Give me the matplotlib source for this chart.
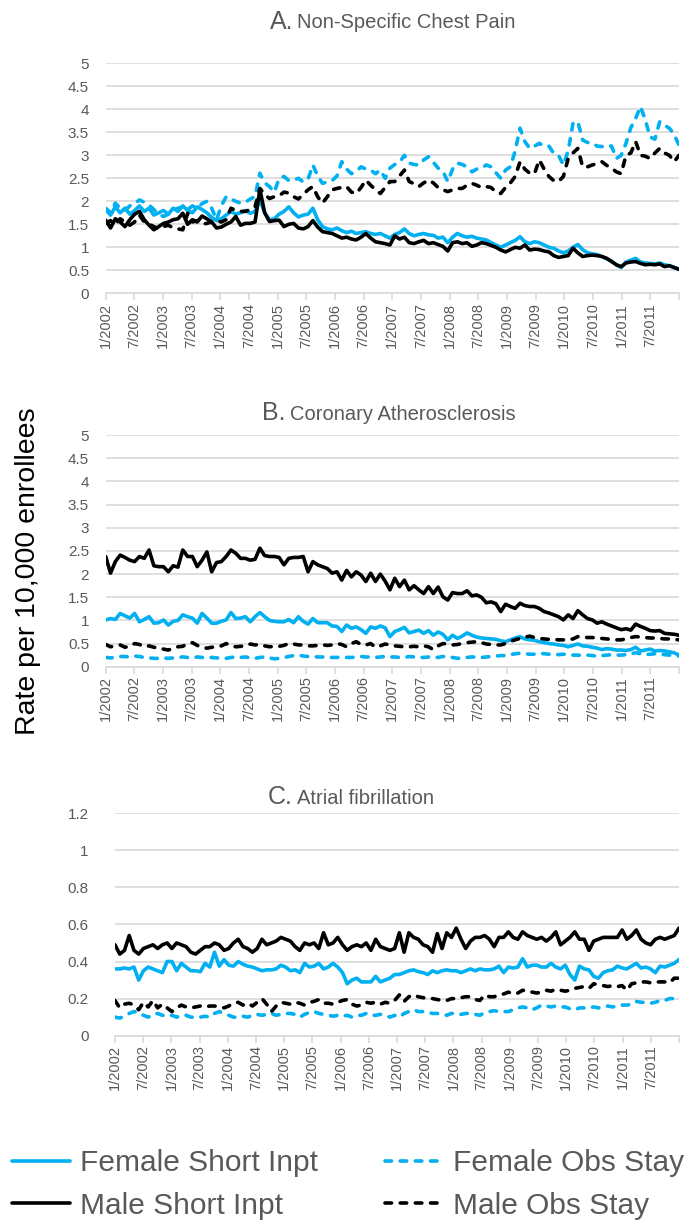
import numpy as np
import matplotlib
matplotlib.use("Agg")
import matplotlib.pyplot as plt
from matplotlib.ticker import FuncFormatter

plt.rcParams['font.family'] = ['Liberation Sans', 'DejaVu Sans']

# ---------------- data ----------------
years = list(range(2002, 2012))
tick_labels = [f"{mo}/{yr}" for yr in years for mo in (1, 7)]
months = np.arange(120)

series_names = ["Female Short Inpt", "Female Obs Stay", "Male Short Inpt", "Male Obs Stay"]

# Panel A: Non-Specific Chest Pain
a_female_short = [
    1.82, 1.70, 1.88, 1.75, 1.85, 1.72, 1.80, 1.90, 1.78, 1.85, 1.70, 1.75,
    1.80, 1.72, 1.85, 1.78, 1.90, 1.80, 1.75, 1.88, 1.82, 1.75, 1.65, 1.58,
    1.62, 1.70, 1.78, 1.72, 1.75, 1.80, 1.74, 1.78, 2.02, 1.75, 1.60, 1.62,
    1.72, 1.78, 1.88, 1.75, 1.66, 1.70, 1.72, 1.85, 1.60, 1.45, 1.40, 1.38,
    1.42, 1.36, 1.32, 1.35, 1.30, 1.32, 1.34, 1.30, 1.28, 1.30, 1.25, 1.20,
    1.28, 1.32, 1.40, 1.30, 1.25, 1.28, 1.30, 1.27, 1.26, 1.20, 1.22, 1.10,
    1.22, 1.30, 1.25, 1.22, 1.24, 1.20, 1.18, 1.16, 1.10, 1.05, 1.00, 1.05,
    1.10, 1.15, 1.23, 1.12, 1.08, 1.12, 1.10, 1.05, 1.00, 0.98, 0.92, 0.88,
    0.92, 1.00, 1.06, 0.95, 0.88, 0.86, 0.84, 0.80, 0.75, 0.70, 0.62, 0.56,
    0.68, 0.72, 0.76, 0.68, 0.66, 0.65, 0.64, 0.66, 0.62, 0.60, 0.56, 0.53]
a_male_short = [
    1.59, 1.42, 1.62, 1.55, 1.45, 1.60, 1.72, 1.78, 1.60, 1.48, 1.38, 1.45,
    1.52, 1.55, 1.60, 1.62, 1.74, 1.50, 1.60, 1.55, 1.68, 1.62, 1.55, 1.42,
    1.44, 1.50, 1.55, 1.67, 1.48, 1.52, 1.52, 1.55, 2.26, 1.75, 1.56, 1.58,
    1.59, 1.45, 1.50, 1.52, 1.42, 1.40, 1.45, 1.58, 1.44, 1.34, 1.32, 1.30,
    1.25, 1.20, 1.22, 1.18, 1.16, 1.22, 1.30, 1.20, 1.12, 1.10, 1.08, 1.05,
    1.25, 1.18, 1.22, 1.10, 1.08, 1.12, 1.15, 1.08, 1.10, 1.06, 1.02, 0.92,
    1.10, 1.12, 1.08, 1.10, 1.02, 1.05, 1.10, 1.08, 1.04, 1.00, 0.94, 0.90,
    0.95, 1.00, 0.98, 1.05, 0.94, 0.96, 0.95, 0.92, 0.90, 0.82, 0.78, 0.80,
    0.82, 0.98, 0.88, 0.80, 0.82, 0.83, 0.82, 0.80, 0.76, 0.69, 0.62, 0.58,
    0.66, 0.68, 0.69, 0.65, 0.62, 0.63, 0.62, 0.64, 0.58, 0.60, 0.56, 0.52]
a_female_obs = [
    1.85, 1.75, 1.96, 1.85, 1.80, 1.90, 1.95, 2.03, 1.98, 1.92, 1.82, 1.72,
    1.67, 1.72, 1.81, 1.85, 1.88, 1.82, 1.90, 1.85, 1.95, 2.00, 1.85, 1.60,
    1.90, 2.10, 2.05, 2.00, 1.96, 1.98, 2.05, 2.10, 2.61, 2.40, 2.32, 2.20,
    2.50, 2.54, 2.45, 2.46, 2.50, 2.42, 2.48, 2.79, 2.55, 2.39, 2.42, 2.45,
    2.55, 2.86, 2.70, 2.60, 2.65, 2.75, 2.70, 2.68, 2.60, 2.68, 2.50, 2.72,
    2.80, 2.85, 3.00, 2.83, 2.80, 2.79, 2.90, 2.97, 2.85, 2.72, 2.65, 2.43,
    2.70, 2.83, 2.80, 2.75, 2.64, 2.70, 2.72, 2.79, 2.75, 2.62, 2.50, 2.68,
    2.75, 3.10, 3.59, 3.30, 3.15, 3.20, 3.26, 3.20, 3.20, 3.04, 3.00, 2.79,
    3.10, 3.70, 3.73, 3.33, 3.28, 3.26, 3.20, 3.19, 3.22, 3.20, 2.93, 3.00,
    3.26, 3.60, 3.80, 4.06, 3.77, 3.40, 3.35, 3.73, 3.65, 3.59, 3.45, 3.22]
a_male_obs = [
    1.52, 1.58, 1.50, 1.62, 1.55, 1.48, 1.55, 1.70, 1.55, 1.50, 1.45, 1.40,
    1.45, 1.48, 1.42, 1.40, 1.38, 1.74, 1.55, 1.58, 1.50, 1.52, 1.55, 1.58,
    1.55, 1.60, 1.85, 1.80, 1.78, 1.78, 1.82, 1.88, 2.28, 2.15, 2.06, 2.10,
    2.12, 2.20, 2.18, 2.10, 2.05, 2.15, 2.25, 2.32, 2.10, 1.96, 2.10, 2.25,
    2.28, 2.30, 2.32, 2.20, 2.17, 2.30, 2.46, 2.35, 2.25, 2.17, 2.30, 2.43,
    2.43, 2.55, 2.68, 2.43, 2.38, 2.32, 2.40, 2.46, 2.40, 2.30, 2.25, 2.21,
    2.25, 2.28, 2.28, 2.35, 2.39, 2.35, 2.30, 2.32, 2.30, 2.20, 2.17, 2.30,
    2.40, 2.54, 2.86, 2.70, 2.61, 2.60, 2.90, 2.70, 2.54, 2.45, 2.43, 2.54,
    2.93, 3.05, 3.15, 2.75, 2.75, 2.79, 2.82, 2.86, 2.78, 2.72, 2.64, 2.60,
    3.00, 3.05, 3.30, 3.00, 2.98, 2.93, 3.05, 3.15, 3.05, 3.00, 2.86, 3.00]

# Panel B: Coronary Atherosclerosis
b_female_short = [
    1.01, 1.04, 1.02, 1.15, 1.10, 1.05, 1.15, 0.97, 1.02, 1.08, 0.94, 0.95,
    1.01, 0.90, 0.98, 1.00, 1.12, 1.08, 1.05, 0.94, 1.15, 1.05, 0.94, 0.94,
    0.98, 1.01, 1.17, 1.04, 1.05, 1.08, 0.97, 1.08, 1.17, 1.08, 1.00, 0.98,
    0.97, 0.97, 1.02, 0.95, 1.08, 0.98, 0.92, 1.04, 0.95, 0.95, 0.95, 0.88,
    0.87, 0.76, 0.90, 0.83, 0.86, 0.80, 0.72, 0.86, 0.83, 0.88, 0.84, 0.65,
    0.76, 0.80, 0.85, 0.73, 0.76, 0.79, 0.72, 0.78, 0.68, 0.75, 0.70, 0.58,
    0.68, 0.61, 0.66, 0.73, 0.68, 0.64, 0.62, 0.61, 0.60, 0.59, 0.56, 0.54,
    0.58, 0.62, 0.65, 0.60, 0.58, 0.57, 0.54, 0.52, 0.50, 0.49, 0.47, 0.46,
    0.43, 0.46, 0.49, 0.45, 0.44, 0.42, 0.40, 0.37, 0.39, 0.38, 0.36, 0.36,
    0.35, 0.37, 0.42, 0.34, 0.36, 0.38, 0.34, 0.35, 0.34, 0.32, 0.30, 0.25]
b_male_short = [
    2.38, 2.02, 2.27, 2.41, 2.36, 2.30, 2.27, 2.38, 2.34, 2.52, 2.18, 2.16,
    2.16, 2.05, 2.18, 2.15, 2.52, 2.38, 2.38, 2.16, 2.30, 2.48, 2.05, 2.25,
    2.27, 2.38, 2.52, 2.45, 2.34, 2.34, 2.30, 2.32, 2.56, 2.40, 2.38, 2.38,
    2.36, 2.20, 2.34, 2.36, 2.36, 2.38, 2.05, 2.27, 2.20, 2.16, 2.12, 2.02,
    2.05, 1.87, 2.08, 1.94, 2.05, 1.98, 1.84, 2.02, 1.84, 2.00, 1.85, 1.66,
    1.91, 1.73, 1.87, 1.66, 1.75, 1.66, 1.58, 1.73, 1.58, 1.72, 1.51, 1.44,
    1.60, 1.58, 1.58, 1.64, 1.53, 1.55, 1.50, 1.38, 1.40, 1.36, 1.19, 1.35,
    1.30, 1.26, 1.37, 1.32, 1.30, 1.30, 1.26, 1.19, 1.16, 1.12, 1.08, 1.01,
    1.12, 1.04, 1.21, 1.12, 1.04, 1.01, 0.94, 0.97, 0.92, 0.88, 0.84, 0.80,
    0.82, 0.79, 0.92, 0.87, 0.83, 0.78, 0.77, 0.78, 0.72, 0.71, 0.70, 0.68]
b_female_obs = [
    0.20, 0.19, 0.20, 0.22, 0.22, 0.21, 0.23, 0.22, 0.20, 0.19, 0.18, 0.18,
    0.19, 0.18, 0.19, 0.20, 0.21, 0.20, 0.19, 0.21, 0.20, 0.19, 0.20, 0.19,
    0.19, 0.18, 0.20, 0.21, 0.20, 0.21, 0.19, 0.18, 0.20, 0.21, 0.19, 0.17,
    0.18, 0.20, 0.22, 0.24, 0.25, 0.23, 0.22, 0.22, 0.21, 0.21, 0.20, 0.20,
    0.20, 0.21, 0.20, 0.20, 0.21, 0.22, 0.21, 0.21, 0.20, 0.21, 0.22, 0.21,
    0.21, 0.20, 0.20, 0.22, 0.21, 0.20, 0.20, 0.21, 0.21, 0.20, 0.22, 0.21,
    0.20, 0.18, 0.19, 0.20, 0.21, 0.21, 0.20, 0.21, 0.22, 0.23, 0.24, 0.24,
    0.26, 0.28, 0.29, 0.28, 0.27, 0.27, 0.29, 0.28, 0.27, 0.27, 0.26, 0.27,
    0.26, 0.25, 0.25, 0.24, 0.25, 0.24, 0.23, 0.24, 0.25, 0.26, 0.25, 0.25,
    0.26, 0.28, 0.30, 0.28, 0.26, 0.27, 0.28, 0.27, 0.26, 0.25, 0.25, 0.23]
b_male_obs = [
    0.48, 0.43, 0.45, 0.47, 0.42, 0.44, 0.50, 0.48, 0.43, 0.45, 0.42, 0.40,
    0.38, 0.36, 0.40, 0.43, 0.44, 0.50, 0.52, 0.46, 0.42, 0.40, 0.42, 0.43,
    0.45, 0.50, 0.46, 0.43, 0.44, 0.45, 0.49, 0.47, 0.48, 0.45, 0.43, 0.44,
    0.44, 0.46, 0.50, 0.49, 0.47, 0.47, 0.45, 0.45, 0.46, 0.47, 0.46, 0.47,
    0.50, 0.48, 0.43, 0.50, 0.54, 0.48, 0.47, 0.50, 0.42, 0.45, 0.49, 0.47,
    0.45, 0.44, 0.43, 0.43, 0.44, 0.43, 0.45, 0.43, 0.37, 0.45, 0.50, 0.49,
    0.47, 0.48, 0.50, 0.52, 0.53, 0.54, 0.52, 0.49, 0.48, 0.47, 0.47, 0.50,
    0.55, 0.58, 0.61, 0.64, 0.66, 0.63, 0.61, 0.60, 0.59, 0.59, 0.58, 0.58,
    0.58, 0.60, 0.65, 0.64, 0.63, 0.63, 0.62, 0.61, 0.60, 0.59, 0.58, 0.58,
    0.60, 0.63, 0.65, 0.64, 0.63, 0.62, 0.62, 0.61, 0.60, 0.60, 0.59, 0.58]

# Panel C: Atrial fibrillation
c_female_short = [
    0.36, 0.36, 0.365, 0.36, 0.37, 0.30, 0.35, 0.37, 0.36, 0.35, 0.34, 0.40,
    0.40, 0.35, 0.39, 0.37, 0.35, 0.35, 0.345, 0.39, 0.37, 0.45, 0.375, 0.41,
    0.38, 0.375, 0.40, 0.385, 0.375, 0.37, 0.36, 0.35, 0.355, 0.355, 0.36, 0.38,
    0.37, 0.35, 0.355, 0.34, 0.39, 0.37, 0.375, 0.39, 0.36, 0.37, 0.39, 0.37,
    0.34, 0.28, 0.30, 0.31, 0.29, 0.29, 0.29, 0.32, 0.29, 0.30, 0.31, 0.33,
    0.33, 0.34, 0.35, 0.355, 0.345, 0.34, 0.33, 0.35, 0.34, 0.35, 0.355, 0.35,
    0.35, 0.34, 0.35, 0.36, 0.35, 0.36, 0.355, 0.355, 0.36, 0.375, 0.34, 0.37,
    0.365, 0.37, 0.415, 0.37, 0.38, 0.38, 0.37, 0.37, 0.39, 0.37, 0.36, 0.38,
    0.33, 0.30, 0.375, 0.36, 0.355, 0.32, 0.31, 0.34, 0.35, 0.355, 0.375, 0.365,
    0.36, 0.375, 0.39, 0.365, 0.37, 0.36, 0.34, 0.375, 0.37, 0.38, 0.39, 0.41]
c_male_short = [
    0.49, 0.44, 0.46, 0.54, 0.46, 0.44, 0.47, 0.48, 0.49, 0.47, 0.49, 0.50,
    0.47, 0.50, 0.49, 0.48, 0.45, 0.44, 0.46, 0.48, 0.48, 0.50, 0.49, 0.46,
    0.47, 0.50, 0.52, 0.48, 0.47, 0.45, 0.47, 0.52, 0.49, 0.50, 0.51, 0.53,
    0.52, 0.51, 0.48, 0.46, 0.50, 0.49, 0.50, 0.47, 0.555, 0.49, 0.50, 0.53,
    0.49, 0.46, 0.48, 0.49, 0.48, 0.50, 0.46, 0.52, 0.48, 0.47, 0.46, 0.47,
    0.555, 0.45, 0.555, 0.53, 0.52, 0.49, 0.48, 0.45, 0.55, 0.47, 0.555, 0.53,
    0.58, 0.52, 0.47, 0.51, 0.53, 0.53, 0.54, 0.52, 0.48, 0.53, 0.53, 0.56,
    0.53, 0.52, 0.56, 0.54, 0.53, 0.52, 0.53, 0.51, 0.53, 0.56, 0.49, 0.51,
    0.53, 0.56, 0.52, 0.52, 0.46, 0.51, 0.52, 0.53, 0.53, 0.53, 0.53, 0.57,
    0.52, 0.54, 0.57, 0.52, 0.50, 0.49, 0.52, 0.53, 0.52, 0.53, 0.54, 0.58]
c_female_obs = [
    0.10, 0.095, 0.105, 0.12, 0.13, 0.125, 0.11, 0.10, 0.115, 0.12, 0.11, 0.105,
    0.11, 0.10, 0.11, 0.11, 0.10, 0.10, 0.10, 0.105, 0.10, 0.12, 0.13, 0.12,
    0.11, 0.10, 0.10, 0.105, 0.10, 0.11, 0.115, 0.11, 0.115, 0.12, 0.11, 0.115,
    0.12, 0.12, 0.115, 0.10, 0.115, 0.125, 0.13, 0.12, 0.115, 0.11, 0.105, 0.11,
    0.105, 0.11, 0.10, 0.11, 0.11, 0.12, 0.11, 0.11, 0.115, 0.11, 0.10, 0.11,
    0.10, 0.12, 0.13, 0.14, 0.13, 0.13, 0.125, 0.12, 0.12, 0.115, 0.11, 0.12,
    0.12, 0.115, 0.12, 0.12, 0.115, 0.11, 0.125, 0.13, 0.135, 0.13, 0.13, 0.13,
    0.14, 0.15, 0.155, 0.15, 0.14, 0.15, 0.165, 0.16, 0.155, 0.16, 0.155, 0.155,
    0.145, 0.14, 0.15, 0.15, 0.15, 0.155, 0.15, 0.155, 0.16, 0.155, 0.16, 0.165,
    0.165, 0.17, 0.185, 0.18, 0.18, 0.175, 0.18, 0.19, 0.19, 0.20, 0.20, 0.205]
c_male_obs = [
    0.19, 0.15, 0.17, 0.175, 0.165, 0.14, 0.18, 0.155, 0.19, 0.15, 0.17, 0.15,
    0.13, 0.15, 0.165, 0.155, 0.15, 0.155, 0.16, 0.155, 0.16, 0.16, 0.155, 0.15,
    0.16, 0.175, 0.18, 0.165, 0.175, 0.16, 0.18, 0.20, 0.17, 0.13, 0.16, 0.18,
    0.175, 0.17, 0.18, 0.175, 0.165, 0.18, 0.185, 0.195, 0.175, 0.175, 0.17, 0.18,
    0.19, 0.195, 0.17, 0.16, 0.165, 0.18, 0.175, 0.18, 0.17, 0.18, 0.175, 0.19,
    0.22, 0.185, 0.21, 0.22, 0.21, 0.205, 0.20, 0.20, 0.195, 0.19, 0.19, 0.20,
    0.20, 0.205, 0.21, 0.21, 0.195, 0.19, 0.22, 0.21, 0.21, 0.22, 0.225, 0.235,
    0.225, 0.23, 0.245, 0.24, 0.235, 0.23, 0.235, 0.245, 0.24, 0.25, 0.245, 0.24,
    0.245, 0.255, 0.26, 0.265, 0.255, 0.28, 0.275, 0.27, 0.265, 0.27, 0.265, 0.27,
    0.245, 0.28, 0.285, 0.29, 0.29, 0.285, 0.29, 0.29, 0.29, 0.285, 0.31, 0.31]

panels = [
    ("A.", "Non-Specific Chest Pain", 5.0, 0.5,
     [a_female_short, a_female_obs, a_male_short, a_male_obs]),
    ("B.", "Coronary Atherosclerosis", 5.0, 0.5,
     [b_female_short, b_female_obs, b_male_short, b_male_obs]),
    ("C.", "Atrial fibrillation", 1.2, 0.2,
     [c_female_short, c_female_obs, c_male_short, c_male_obs]),
]

# ---------------- style ----------------
BLUE = "#00B0F0"
BLACK = "#000000"
TXT = "#595959"
GRID = "#D9D9D9"
LW = 2.6
DASH = (0, (1.8, 2.4))
styles = [
    dict(color=BLUE, linestyle="-"),
    dict(color=BLUE, linestyle=DASH),
    dict(color=BLACK, linestyle="-"),
    dict(color=BLACK, linestyle=DASH),
]

W, H = 700, 1226
fig = plt.figure(figsize=(W / 100, H / 100), dpi=100)

# axes rectangles in pixels: (left, right, y_top, y_bottom)
rects = [(105.7, 679, 63.3, 293.3), (105.7, 679, 435.2, 666.7), (115, 679, 813.1, 1035.7)]
title_y = [22, 413, 797]
title_x = [392, 385, 392]
ypads = [12, 12, 19]

lines_for_legend = None
for (letter, name, ymax, ystep, data), (l, r, t, b), ty, tx, ypad in zip(
        panels, rects, title_y, title_x, ypads):
    ax = fig.add_axes([l / W, 1 - b / H, (r - l) / W, (b - t) / H])
    handles = []
    for vals, st in zip(data, styles):
        h, = ax.plot(months, vals, lw=LW, solid_capstyle="round",
                     dash_capstyle="round", solid_joinstyle="round", **st)
        handles.append(h)
    lines_for_legend = handles
    ax.set_xlim(0, 119)
    ax.set_ylim(0, ymax)
    ax.set_yticks(np.arange(0, ymax + 1e-9, ystep))
    ax.yaxis.set_major_formatter(FuncFormatter(lambda v, p: f"{v:g}"))
    ax.set_xticks(np.linspace(0, 119, 21))
    ax.set_xticklabels(tick_labels + [""])
    ax.grid(axis="y", color=GRID, lw=1.2, zorder=0)
    ax.set_axisbelow(True)
    for s in ("top", "right", "left"):
        ax.spines[s].set_visible(False)
    ax.spines["bottom"].set_color(GRID)
    ax.spines["bottom"].set_linewidth(1.2)
    ax.tick_params(axis="y", length=0, pad=ypad, labelsize=11, labelcolor=TXT)
    ax.tick_params(axis="x", length=5, width=1.2, color=GRID, direction="out",
                   labelsize=10.5, labelcolor=TXT, labelrotation=90, pad=2)
    for lab in ax.get_xticklabels():
        lab.set_verticalalignment("top")
    # title: larger letter + name
    fig.text((tx - 99) / W, 1 - ty / H, letter, fontsize=18, color=TXT,
             ha="right", va="center")
    fig.text((tx - 95) / W, 1 - (ty + 1) / H, name, fontsize=14.5, color=TXT,
             ha="left", va="center")

fig.text(28 / W, 1 - 571 / H, "Rate per 10,000 enrollees", rotation=90,
         fontsize=20.5, color="#000000", ha="center", va="center")

leg = fig.legend([lines_for_legend[0], lines_for_legend[2], lines_for_legend[1], lines_for_legend[3]],
                 [series_names[0], series_names[2], series_names[1], series_names[3]],
                 ncol=2, loc="upper left", bbox_to_anchor=(3 / W, 1 - 1140 / H),
                 frameon=False, fontsize=21.5, handlelength=1.95, handletextpad=0.33,
                 columnspacing=2.25, labelspacing=0.5, borderaxespad=0, borderpad=0.3)
for txt in leg.get_texts():
    txt.set_color(TXT)

fig.savefig("out.png", dpi=100)
